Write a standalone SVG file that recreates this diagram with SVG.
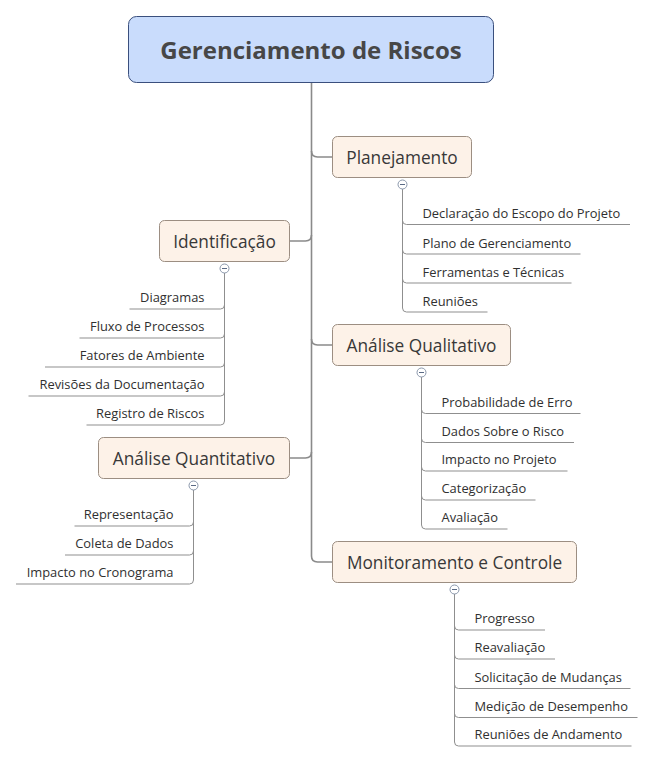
<svg xmlns="http://www.w3.org/2000/svg" width="654" height="762" viewBox="0 0 654 762">
<style>
.bg{fill:#ffffff}
.root{fill:#c9dcfc;stroke:#3a4f7d;stroke-width:1}
.node{fill:#fdf2e8;stroke:#9c8e82;stroke-width:1}
.title{font-family:"Open Sans","Liberation Sans",sans-serif;font-size:24px;font-weight:bold;fill:#474747;text-anchor:middle}
.nt{font-family:"Open Sans","Liberation Sans",sans-serif;font-size:17.3px;fill:#383838;text-anchor:middle}
.lt{font-family:"Open Sans","Liberation Sans",sans-serif;font-size:12.9px;fill:#303030}
.le{text-anchor:end}
.trunk{fill:none;stroke:#8a8a8a;stroke-width:1.6}
.leaf{fill:none;stroke:#8f8f8f;stroke-width:1}
.col{fill:#ffffff;stroke:#8a97ab;stroke-width:1}
.minus{stroke:#5a6a85;stroke-width:1}
</style>
<rect class="bg" x="0" y="0" width="654" height="762"/>
<g id="connectors">
<path class="trunk" d="M311.5,82.5 V556 Q311.5,562 317.5,562 H332.5"/>
<path class="trunk" d="M311.5,151 Q311.5,157 317.5,157 H332.5"/>
<path class="trunk" d="M311.5,235 Q311.5,241 305.5,241 H289.5"/>
<path class="trunk" d="M311.5,339 Q311.5,345 317.5,345 H332.5"/>
<path class="trunk" d="M311.5,452 Q311.5,458 305.5,458 H289.5"/>
<!-- Planejamento leaves -->
<path class="leaf" d="M402.5,189 V308"/>
<path class="leaf" d="M402.5,220.5 Q402.5,224.5 406.5,224.5 H630"/>
<path class="leaf" d="M402.5,250 Q402.5,254 406.5,254 H580.5"/>
<path class="leaf" d="M402.5,279 Q402.5,283 406.5,283 H571.5"/>
<path class="leaf" d="M402.5,308 Q402.5,312 406.5,312 H487.5"/>
<!-- Identificação leaves -->
<path class="leaf" d="M224.5,273 V421"/>
<path class="leaf" d="M224.5,305 Q224.5,309 220.5,309 H129.5"/>
<path class="leaf" d="M224.5,334 Q224.5,338 220.5,338 H79.5"/>
<path class="leaf" d="M224.5,363 Q224.5,367 220.5,367 H45"/>
<path class="leaf" d="M224.5,392 Q224.5,396 220.5,396 H28.5"/>
<path class="leaf" d="M224.5,421 Q224.5,425 220.5,425 H86.5"/>
<!-- Qualitativo leaves -->
<path class="leaf" d="M421.5,377 V525"/>
<path class="leaf" d="M421.5,409.5 Q421.5,413.5 425.5,413.5 H580.5"/>
<path class="leaf" d="M421.5,438.5 Q421.5,442.5 425.5,442.5 H574"/>
<path class="leaf" d="M421.5,467 Q421.5,471 425.5,471 H567.5"/>
<path class="leaf" d="M421.5,496 Q421.5,500 425.5,500 H535.5"/>
<path class="leaf" d="M421.5,525 Q421.5,529 425.5,529 H507.5"/>
<!-- Quantitativo leaves -->
<path class="leaf" d="M193.5,490 V580"/>
<path class="leaf" d="M193.5,522 Q193.5,526 189.5,526 H74.5"/>
<path class="leaf" d="M193.5,551 Q193.5,555 189.5,555 H65"/>
<path class="leaf" d="M193.5,580 Q193.5,584 189.5,584 H16"/>
<!-- Monitoramento leaves -->
<path class="leaf" d="M454.5,594 V742"/>
<path class="leaf" d="M454.5,626 Q454.5,630 458.5,630 H545"/>
<path class="leaf" d="M454.5,655 Q454.5,659 458.5,659 H555"/>
<path class="leaf" d="M454.5,684.5 Q454.5,688.5 458.5,688.5 H630.5"/>
<path class="leaf" d="M454.5,713.5 Q454.5,717.5 458.5,717.5 H637.5"/>
<path class="leaf" d="M454.5,742 Q454.5,746 458.5,746 H631.5"/>
</g>
<g id="root">
<rect class="root" x="128.5" y="16.5" width="365" height="66" rx="8"/>
<text class="title" x="311" y="59">Gerenciamento de Riscos</text>
</g>
<g id="planejamento">
<rect class="node" x="332.5" y="136.5" width="139" height="41" rx="5"/>
<text class="nt" x="402" y="163.5">Planejamento</text>
<circle class="col" cx="402.5" cy="184.5" r="4.5"/><line class="minus" x1="400" y1="184.5" x2="405" y2="184.5"/>
<text class="lt" x="422.5" y="218">Declaração do Escopo do Projeto</text>
<text class="lt" x="422.5" y="247.5">Plano de Gerenciamento</text>
<text class="lt" x="422.5" y="276.5">Ferramentas e Técnicas</text>
<text class="lt" x="422.5" y="305.5">Reuniões</text>
</g>
<g id="identificacao">
<rect class="node" x="159.5" y="220.5" width="130" height="41" rx="5"/>
<text class="nt" x="224.5" y="247.5">Identificação</text>
<circle class="col" cx="224.5" cy="268.5" r="4.5"/><line class="minus" x1="222" y1="268.5" x2="227" y2="268.5"/>
<text class="lt le" x="204.5" y="301.5">Diagramas</text>
<text class="lt le" x="204.5" y="330.5">Fluxo de Processos</text>
<text class="lt le" x="204.5" y="359.5">Fatores de Ambiente</text>
<text class="lt le" x="204.5" y="388.5">Revisões da Documentação</text>
<text class="lt le" x="204.5" y="417.5">Registro de Riscos</text>
</g>
<g id="qualitativo">
<rect class="node" x="332.5" y="324.5" width="178" height="41" rx="5"/>
<text class="nt" x="421.5" y="351.5">Análise Qualitativo</text>
<circle class="col" cx="421.5" cy="372.5" r="4.5"/><line class="minus" x1="419" y1="372.5" x2="424" y2="372.5"/>
<text class="lt" x="441.5" y="406.5">Probabilidade de Erro</text>
<text class="lt" x="441.5" y="435.5">Dados Sobre o Risco</text>
<text class="lt" x="441.5" y="464">Impacto no Projeto</text>
<text class="lt" x="441.5" y="493">Categorização</text>
<text class="lt" x="441.5" y="522">Avaliação</text>
</g>
<g id="quantitativo">
<rect class="node" x="98.5" y="437.5" width="191" height="41" rx="5"/>
<text class="nt" x="194" y="464.5">Análise Quantitativo</text>
<circle class="col" cx="193.5" cy="485.5" r="4.5"/><line class="minus" x1="191" y1="485.5" x2="196" y2="485.5"/>
<text class="lt le" x="173.5" y="519">Representação</text>
<text class="lt le" x="173.5" y="548">Coleta de Dados</text>
<text class="lt le" x="173.5" y="577">Impacto no Cronograma</text>
</g>
<g id="monitoramento">
<rect class="node" x="332.5" y="541.5" width="244" height="41" rx="5"/>
<text class="nt" x="454.5" y="568.5">Monitoramento e Controle</text>
<circle class="col" cx="454.5" cy="589.5" r="4.5"/><line class="minus" x1="452" y1="589.5" x2="457" y2="589.5"/>
<text class="lt" x="474.5" y="623">Progresso</text>
<text class="lt" x="474.5" y="652">Reavaliação</text>
<text class="lt" x="474.5" y="681.5">Solicitação de Mudanças</text>
<text class="lt" x="474.5" y="710.5">Medição de Desempenho</text>
<text class="lt" x="474.5" y="739">Reuniões de Andamento</text>
</g>
</svg>
